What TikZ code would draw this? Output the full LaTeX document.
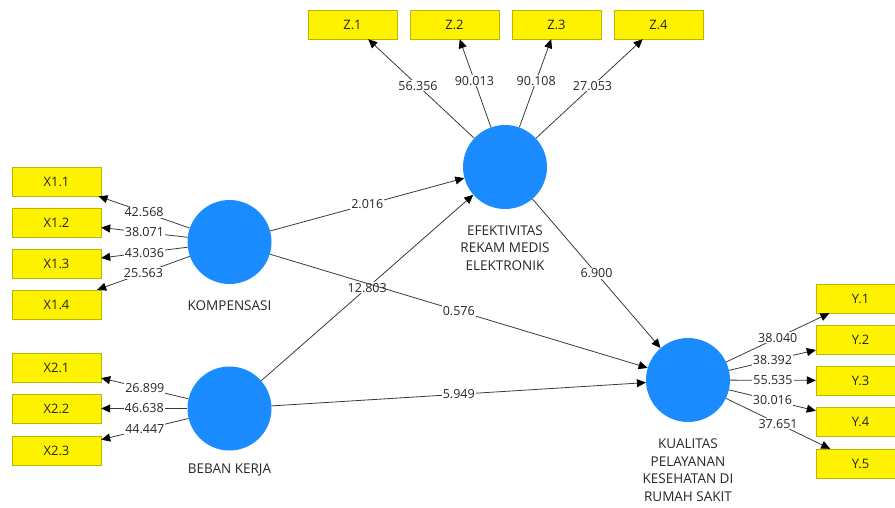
\documentclass[tikz,border=0pt]{standalone}
\usepackage{fontspec}
\setmainfont{Open Sans}
\usetikzlibrary{arrows.meta}

\definecolor{lvblue}{HTML}{1A8CFF}
\definecolor{boxedge}{HTML}{B8B800}
\definecolor{linegray}{HTML}{3A3A3A}
\definecolor{txtgray}{HTML}{22262E}

\begin{document}
\begin{tikzpicture}[x=1pt, y=-1pt,
    every node/.style={font=\fontsize{12.5}{14}\selectfont, text=txtgray},
    ind/.style={draw=boxedge, fill=yellow, minimum width=89pt, minimum height=29pt, inner sep=0pt, font=\fontsize{13}{15}\selectfont},
    lv/.style={circle, fill=lvblue, minimum size=84pt, inner sep=0pt},
    lvname/.style={align=center, font=\fontsize{13.5}{17.5}\selectfont},
    link/.style={draw=linegray, line width=0.8pt, -{Triangle[length=9pt, width=8pt, color=black]}},
    val/.style={fill=white, inner sep=1pt}]

    \clip (0,0) rectangle (895,507);

    % Latent variables
    \node[lv] (komp) at (229.5,242) {};
    \node[lvname] (kompname) at (229.5,306) {KOMPENSASI};

    \node[lv] (beban) at (229.5,408.5) {};
    \node[lvname] (bebanname) at (229.5,470) {BEBAN KERJA};

    \node[lv] (efek) at (505,167) {};
    \node[lvname] (efekname) at (505,248) {EFEKTIVITAS\\REKAM MEDIS\\ELEKTRONIK};

    \node[lv] (kual) at (688,380) {};
    \node[lvname] (kualname) at (688,470) {KUALITAS\\PELAYANAN\\KESEHATAN DI\\RUMAH SAKIT};

    % Indicators
    \node[ind] (x11) at (56.5,181.5) {X1.1};
    \node[ind] (x12) at (56.5,222.5) {X1.2};
    \node[ind] (x13) at (56.5,263.5) {X1.3};
    \node[ind] (x14) at (56.5,304.5) {X1.4};

    \node[ind] (x21) at (56.5,367.5) {X2.1};
    \node[ind] (x22) at (56.5,408.5) {X2.2};
    \node[ind] (x23) at (56.5,450.5) {X2.3};

    \node[ind] (z1) at (352.5,24.5) {Z.1};
    \node[ind] (z2) at (454.5,24.5) {Z.2};
    \node[ind] (z3) at (556.5,24.5) {Z.3};
    \node[ind] (z4) at (658.5,24.5) {Z.4};

    \node[ind] (y1) at (860.5,298.5) {Y.1};
    \node[ind] (y2) at (860.5,339.5) {Y.2};
    \node[ind] (y3) at (860.5,380.5) {Y.3};
    \node[ind] (y4) at (860.5,421.5) {Y.4};
    \node[ind] (y5) at (860.5,463.5) {Y.5};

    % Outer loadings
    \draw[link] (komp) -- node[val] {42.568} (x11);
    \draw[link] (komp) -- node[val] {38.071} (x12);
    \draw[link] (komp) -- node[val] {43.036} (x13);
    \draw[link] (komp) -- node[val] {25.563} (x14);

    \draw[link] (beban) -- node[val] {26.899} (x21);
    \draw[link] (beban) -- node[val] {46.638} (x22);
    \draw[link] (beban) -- node[val] {44.447} (x23);

    \draw[link] (efek) -- node[val, pos=0.53] {56.356} (z1);
    \draw[link] (efek) -- node[val, pos=0.53] {90.013} (z2);
    \draw[link] (efek) -- node[val, pos=0.53] {90.108} (z3);
    \draw[link] (efek) -- node[val, pos=0.53] {27.053} (z4);

    \draw[link] (kual) -- node[val] {38.040} (y1);
    \draw[link] (kual) -- node[val] {38.392} (y2);
    \draw[link] (kual) -- node[val] {55.535} (y3);
    \draw[link] (kual) -- node[val] {30.016} (y4);
    \draw[link] (kual) -- node[val] {37.651} (y5);

    % Inner model
    \draw[link] (komp) -- node[val] {2.016} (efek);
    \draw[link] (beban) -- node[val] {12.803} (efek);
    \draw[link] (komp) -- node[val] {0.576} (kual);
    \draw[link] (beban) -- node[val] {5.949} (kual);
    \draw[link] (efek) -- node[val] {6.900} (kual);

\end{tikzpicture}
\end{document}
